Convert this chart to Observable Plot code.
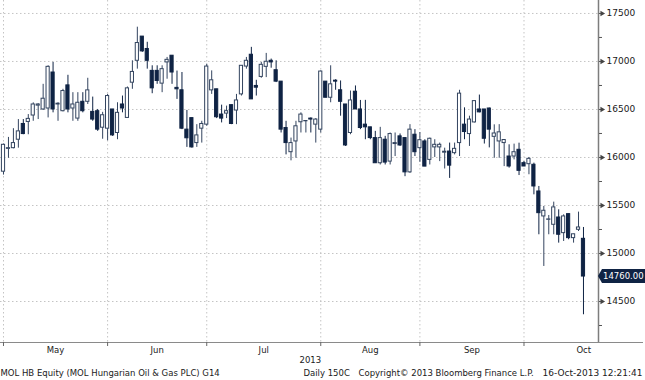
<!DOCTYPE html>
<html><head><meta charset="utf-8">
<script src="https://cdn.jsdelivr.net/npm/d3@7"></script>
<script src="https://cdn.jsdelivr.net/npm/@observablehq/plot@0.6"></script>
<style>
body{margin:0;background:#fff;}
#chart svg{display:block;}
</style></head><body><div id="chart"></div>
<script>
// Daily OHLC, MOL HB Equity, May–Oct 2013
const open  = [15852,16090,16097,16185,16349,16370,16437,16540,16500,16510,16885,16552,16482,16751,16510,16405,16580,16580,16475,16482,16310,
               16300,16500,16255,16552,16412,16779,17007,17259,17130,16902,16902,16769,16990,17060,16725,16700,16290,16410,16150,16300,
               16342,16699,16710,16447,16457,16545,16489,16657,16947,17070,16745,16839,16944,17007,16909,16790,16307,16055,16167,16367,16377,16405,16342,
               16290,16790,16622,16800,16700,16552,16255,16685,16500,16342,16314,16202,15940,16185,15957,16140,16220,16202,15845,16237,
               16097,16167,15975,16105,16105,16050,16062,16045,16150,16342,16244,16365,16500,16500,16510,16215,16167,16150,16010,16010,16080,
               15941,15930,15924,15646,15386,15351,15299,15375,15212,15410,15160,15247,15153];
const high  = [16140,16209,16300,16395,16395,16447,16569,16560,16762,16955,16990,16570,16710,16856,16675,16675,16675,16825,16629,16500,16470,
               16657,16500,16570,16640,16734,17007,17357,17259,17200,16955,16955,16955,17042,17060,16900,16885,16490,16410,16342,16377,
               16972,16902,16710,16545,16535,16545,16657,16955,17042,17147,16804,16990,17084,17025,17007,16790,16377,16202,16377,16465,16385,16412,16405,
               16902,16790,16955,16810,16797,16552,16692,16745,16594,16595,16314,16272,16314,16220,16255,16255,16245,16202,16342,16290,
               16260,16185,16202,16185,16150,16097,16150,16150,16700,16517,16430,16587,16650,16500,16515,16340,16342,16185,16132,16139,16149,
               15958,16000,15941,15698,15490,15396,15535,15455,15403,15410,15200,15431,15271];
const low   = [15817,15992,16090,16097,16237,16237,16377,16395,16490,16412,16465,16377,16475,16465,16377,16377,16465,16552,16377,16272,16190,
               16174,16220,16185,16465,16412,16710,16920,17095,16920,16664,16762,16675,16815,16762,16605,16290,16105,16097,16105,16150,
               16325,16657,16405,16360,16405,16342,16342,16640,16920,16605,16640,16825,16832,16930,16780,16255,16027,15965,15992,16255,16255,16255,16150,
               16255,16622,16570,16700,16430,16115,16237,16500,16290,16185,16185,15940,15922,15922,15922,16010,16115,15800,15835,16010,
               15950,15905,15922,16000,15957,15880,15782,16027,16010,16185,16115,16360,16465,16140,16100,15992,15992,15905,15889,15975,15812,
               15906,15820,15611,15195,14865,15195,15195,15108,15125,15143,15108,15229,14362];
const close = [16132,16097,16150,16272,16244,16402,16552,16552,16612,16944,16500,16560,16692,16500,16552,16570,16482,16699,16395,16290,16440,
               16640,16230,16465,16510,16720,16891,17192,17105,17007,16720,16797,16920,17017,16885,16710,16300,16200,16105,16230,16349,
               16947,16804,16419,16405,16482,16349,16594,16955,17007,16605,16727,16965,16997,16990,16790,16290,16150,16150,16325,16447,16380,16395,16395,
               16895,16622,16762,16790,16580,16125,16594,16500,16307,16314,16202,15940,16202,15947,16244,16150,16125,15845,16290,16055,
               16180,15905,16195,16132,16132,16060,15915,16090,16665,16265,16395,16587,16470,16195,16290,16250,16262,16182,15906,16055,15861,
               15906,15986,15698,15420,15445,15355,15480,15195,15386,15160,15200,15271,14760];

const months     = ["May","Jun","Jul","Aug","Sep","Oct"];
const monthStart = [0,21,41,64,84,105];
const yTicks     = [14500,15000,15500,16000,16500,17000,17500];
const yMinor     = [14250,14750,15250,15750,16250,16750,17250];
const yearLabel  = "2013";
const lastPrice  = 14760;
const footerLeft   = "MOL HB Equity (MOL Hungarian Oil & Gas PLC) G14";
const footerPeriod = "Daily 150C";
const footerCopy   = "Copyright\u00A9 2013 Bloomberg Finance L.P.";
const footerDate   = "16-Oct-2013 12:21:41";

const data = open.map((o, i) => ({i, open: o, high: high[i], low: low[i], close: close[i], up: close[i] >= o}));

const W = 645, H = 380, mR = 47, mB = 38;
const xDomain = [-0.605, 120.03];
const yDomain = [14073, 17635];
const pitch = (W - mR) / (xDomain[1] - xDomain[0]);
const xEnd = xDomain[1] + (mR - 2) / pitch;

const dark = "#0f2344";
const hollowStroke = "#33445f";
const grid = "#c4c4c4";
const ink = "#1a1a1a";
const font = "DejaVu Sans";

const monthMid = months.map((m, k) => (monthStart[k] + (k + 1 < monthStart.length ? monthStart[k + 1] : xEnd)) / 2);

const chart = Plot.plot({
  width: W, height: H,
  marginTop: 0, marginLeft: 0, marginRight: mR, marginBottom: mB,
  style: {fontFamily: font, fontSize: "8.5px", color: ink, background: "#fff"},
  x: {domain: xDomain, axis: null, label: null},
  y: {domain: yDomain, axis: null, label: null},
  marks: [
    Plot.ruleY(yTicks, {stroke: grid, strokeDasharray: "1.5,2.5"}),
    Plot.ruleX(monthStart, {stroke: grid, strokeDasharray: "1.5,2.5"}),
    Plot.ruleX(data, {x: "i", y1: "low", y2: "high", stroke: d => d.up ? hollowStroke : dark, strokeWidth: 1}),
    Plot.rect(data, {
      x1: d => d.i - 0.32, x2: d => d.i + 0.32,
      y1: d => Math.min(d.open, d.close), y2: d => Math.max(d.open, d.close),
      fill: d => d.up ? "#ffffff" : dark,
      stroke: d => d.up ? hollowStroke : dark, strokeWidth: 1
    }),
    // right axis
    Plot.ruleX([xDomain[1]], {stroke: "#7d7d7d", strokeWidth: 1.5}),
    Plot.axisY({anchor: "right", label: null, ticks: yMinor, tickSize: 3, tickFormat: () => "", stroke: "#555"}),
    Plot.axisY({anchor: "right", label: null, ticks: yTicks, tickSize: 3, tickPadding: 5, tickFormat: d => String(d), stroke: "#555", fill: ink, fontSize: 9}),
    Plot.dot(yTicks, {x: () => xDomain[1], y: d => d, symbol: "triangle", rotate: 90, r: 2, dx: 3.5, fill: "#444", stroke: null}),
    // bottom axis
    Plot.ruleY([yDomain[0]], {x1: xDomain[0], x2: xEnd, stroke: "#8a8a8a", strokeWidth: 1}),
    Plot.axisX({anchor: "bottom", label: null, ticks: monthStart, tickSize: 4, tickFormat: () => "", stroke: "#666"}),
    Plot.text(months, {x: (d, k) => monthMid[k], frameAnchor: "bottom", dy: 10, fill: ink, fontSize: 8.5}),
    Plot.text([yearLabel], {frameAnchor: "bottom-left", dx: 299, dy: 20, fill: ink, fontSize: 8.5}),
    Plot.text([footerLeft], {frameAnchor: "bottom-left", dx: 0, dy: 33, textAnchor: "start", fill: ink, fontSize: 8.5}),
    Plot.text([footerPeriod], {frameAnchor: "bottom-left", dx: 303, dy: 33, textAnchor: "start", fill: ink, fontSize: 8.5}),
    Plot.text([footerCopy], {frameAnchor: "bottom-left", dx: 358, dy: 33, textAnchor: "start", fill: ink, fontSize: 8.5}),
    Plot.text([footerDate], {frameAnchor: "bottom-left", dx: 642, dy: 33, textAnchor: "end", fill: ink, fontSize: 9})
  ]
});

document.getElementById("chart").append(chart);

// last price tag, positioned with the chart's own scales
const ys = chart.scale("y"), xs = chart.scale("x");
const py = ys.apply(lastPrice);
const px = xs.apply(xDomain[1]);
const svg = d3.select(chart);
const g = svg.append("g");
g.append("path")
  .attr("d", `M${px},${py} L${px + 4},${py - 7} L${W},${py - 7} L${W},${py + 7} L${px + 4},${py + 7} Z`)
  .attr("fill", "#0f2344");
g.append("text")
  .attr("x", px + 5).attr("y", py).attr("dy", "0.35em")
  .attr("text-anchor", "start")
  .attr("fill", "#ffffff").attr("font-family", font).attr("font-size", 8.5)
  .text(lastPrice.toFixed(2));
</script>
</body></html>
